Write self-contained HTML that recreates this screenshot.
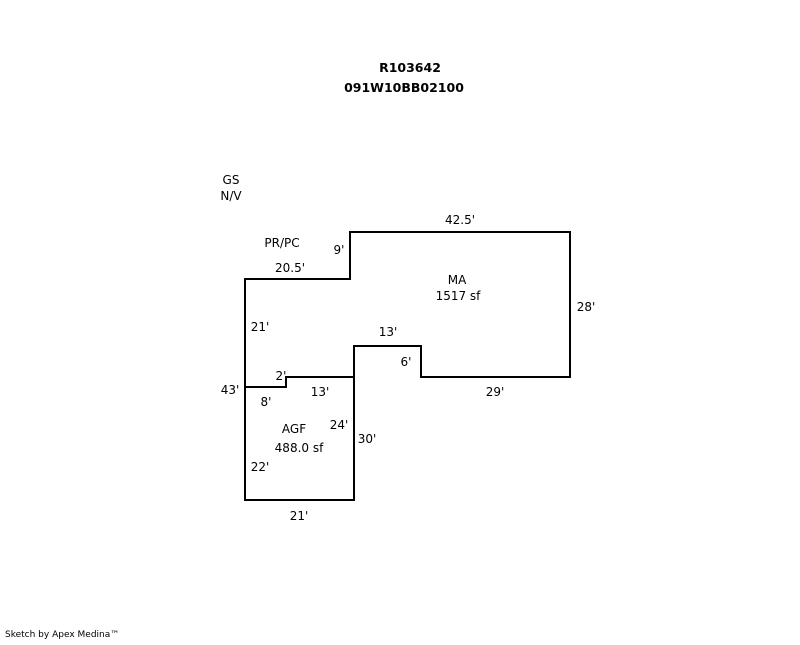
<!DOCTYPE html>
<html><head><style>body{margin:0;background:#fff}svg text{font-family:"DejaVu Sans","Liberation Sans",sans-serif;font-size:12px;fill:#000}</style></head>
<body>
<svg width="800" height="640" xmlns="http://www.w3.org/2000/svg">
<g fill="none" stroke="#000" stroke-width="2">
<path d="M245,279 H350 V232 H570 V377 H421 V346 H354 V500 H245 Z"/>
<path d="M245,387 H286 V377 H354"/>
</g>
<text x="410" y="72" text-anchor="middle" style="font-weight:bold;font-size:12.5px">R103642</text>
<text x="404" y="92" text-anchor="middle" style="font-weight:bold;font-size:12.5px">091W10BB02100</text>
<text x="231" y="184" text-anchor="middle">GS</text>
<text x="231" y="200" text-anchor="middle">N/V</text>
<text x="282" y="247" text-anchor="middle">PR/PC</text>
<text x="339" y="254" text-anchor="middle">9'</text>
<text x="460" y="224" text-anchor="middle">42.5'</text>
<text x="290" y="272" text-anchor="middle">20.5'</text>
<text x="457" y="284" text-anchor="middle">MA</text>
<text x="458" y="300" text-anchor="middle">1517 sf</text>
<text x="586" y="311" text-anchor="middle">28'</text>
<text x="260" y="331" text-anchor="middle">21'</text>
<text x="388" y="336" text-anchor="middle">13'</text>
<text x="406" y="366" text-anchor="middle">6'</text>
<text x="281" y="380" text-anchor="middle">2'</text>
<text x="230" y="394" text-anchor="middle">43'</text>
<text x="320" y="396" text-anchor="middle">13'</text>
<text x="495" y="396" text-anchor="middle">29'</text>
<text x="266" y="406" text-anchor="middle">8'</text>
<text x="339" y="429" text-anchor="middle">24'</text>
<text x="294" y="433" text-anchor="middle">AGF</text>
<text x="299" y="452" text-anchor="middle">488.0 sf</text>
<text x="367" y="443" text-anchor="middle">30'</text>
<text x="260" y="471" text-anchor="middle">22'</text>
<text x="299" y="520" text-anchor="middle">21'</text>
<text x="5" y="637" style="font-size:9px">Sketch by Apex Medina™</text>
</svg>
</body></html>
